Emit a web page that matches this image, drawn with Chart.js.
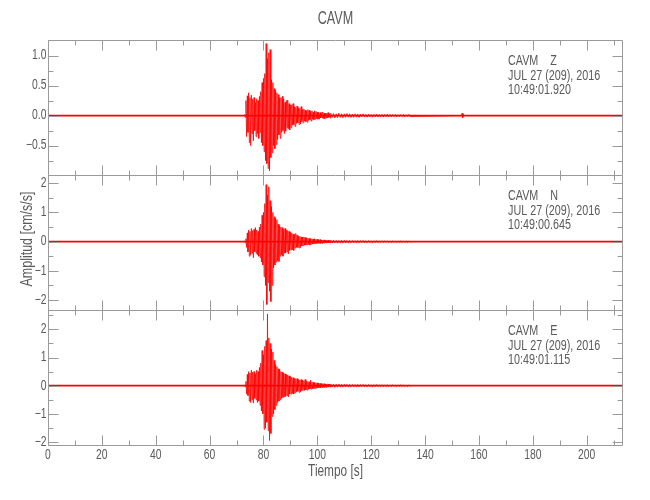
<!DOCTYPE html>
<html>
<head>
<meta charset="utf-8">
<script src="https://cdn.jsdelivr.net/npm/chart.js@4.4.1/dist/chart.umd.min.js"></script>
<style>
  body { margin: 0; background: #fff; }
  #wrap { position: relative; width: 650px; height: 500px; }
  #wrap canvas { position: absolute; left: 0; top: 0; }
</style>
</head>
<body>
<div id="wrap">
  <canvas id="panelZ" width="650" height="500"></canvas>
  <canvas id="panelN" width="650" height="500"></canvas>
  <canvas id="panelE" width="650" height="500"></canvas>
</div>
<script>
// header text
const stationName = "CAVM";
const components = ["Z", "N", "E"];
const recordDate = "JUL 27 (209), 2016";
const startTimes = ["10:49:01.920", "10:49:00.645", "10:49:01.115"];
const xTitle = "Tiempo [s]";
const yTitle = "Amplitud [cm/s/s]";

// time axis (s)
const xTicks = [0, 20, 40, 60, 80, 100, 120, 140, 160, 180, 200];
const xMinorTicks = [10, 30, 50, 70, 90, 110, 130, 150, 170, 190, 210];
const tEnd = 213.5;

// samples: burst every 0.25 s from 73 s, coda every 0.5 s from 105 s
const burstStart = 73, burstStep = 0.25;
const codaStart = 105, codaStep = 0.5;

const zBurst = [
  0.02, -0.03,
  0.25, -0.35, 0.33, -0.28,
  0.38, -0.45, 0.30, -0.50,
  0.34, -0.30, 0.28, -0.42,
  0.30, -0.25, 0.22, -0.35,
  0.28, -0.30, 0.25, -0.38,
  0.32, -0.28, 0.40, -0.45,
  0.55, -0.50, 0.62, -0.60,
  0.70, -0.75, 1.20, -0.80,
  0.95, -0.88, 1.05, -0.92,
  1.10, -0.70, 0.60, -0.62,
  0.55, -0.50, 0.45, -0.55,
  0.42, -0.48, 0.38, -0.40,
  0.35, -0.32, 0.30, -0.38,
  0.30, -0.28, 0.32, -0.25,
  0.28, -0.30, 0.22, -0.26,
  0.25, -0.20, 0.26, -0.22,
  0.20, -0.24, 0.18, -0.20,
  0.18, -0.16, 0.20, -0.15,
  0.15, -0.18, 0.14, -0.13,
  0.16, -0.12, 0.13, -0.15,
  0.12, -0.14, 0.15, -0.10,
  0.10, -0.12, 0.11, -0.09,
  0.09, -0.10, 0.08, -0.11,
  0.10, -0.08, 0.09, -0.07,
  0.07, -0.09, 0.08, -0.06,
  0.06, -0.07, 0.08, -0.06,
  0.07, -0.05, 0.06, -0.06,
  0.05, -0.06, 0.05, -0.04,
  0.05, -0.04, 0.06, -0.05,
  0.04, -0.05, 0.04, -0.04,
  0.04, -0.04, 0.05, -0.03,
  0.03, -0.04
];
const nBurst = [
  0.03, -0.04,
  0.10, -0.20, 0.30, -0.35,
  0.40, -0.50, 0.35, -0.45,
  0.45, -0.40, 0.38, -0.55,
  0.42, -0.35, 0.48, -0.40,
  0.40, -0.45, 0.35, -0.50,
  0.50, -0.55, 0.60, -0.70,
  0.90, -0.80, 1.00, -1.20,
  1.30, -1.50, 1.95, -2.15,
  1.60, -1.40, 1.88, -1.70,
  1.40, -2.05, 1.20, -1.50,
  1.00, -0.90, 0.85, -0.80,
  0.80, -0.70, 0.75, -0.65,
  0.60, -0.68, 0.55, -0.50,
  0.50, -0.45, 0.48, -0.50,
  0.42, -0.40, 0.45, -0.38,
  0.40, -0.35, 0.38, -0.42,
  0.35, -0.30, 0.32, -0.28,
  0.30, -0.28, 0.25, -0.30,
  0.25, -0.22, 0.28, -0.20,
  0.22, -0.20, 0.18, -0.22,
  0.18, -0.20, 0.16, -0.15,
  0.15, -0.14, 0.16, -0.12,
  0.14, -0.12, 0.13, -0.11,
  0.12, -0.10, 0.11, -0.12,
  0.10, -0.09, 0.10, -0.08,
  0.09, -0.08, 0.10, -0.07,
  0.08, -0.07, 0.08, -0.06,
  0.07, -0.06, 0.07, -0.06,
  0.06, -0.06, 0.05, -0.05,
  0.06, -0.05, 0.05, -0.04,
  0.05, -0.04, 0.05, -0.04,
  0.04, -0.04
];
const eBurst = [
  0.03, -0.04,
  0.15, -0.30, 0.40, -0.35,
  0.50, -0.55, 0.45, -0.60,
  0.55, -0.50, 0.48, -0.62,
  0.50, -0.45, 0.42, -0.50,
  0.55, -0.60, 0.50, -0.55,
  0.65, -0.70, 0.80, -0.90,
  1.25, -1.00, 1.10, -1.55,
  1.40, -1.50, 1.60, -1.30,
  2.55, -1.60, 1.70, -1.95,
  1.50, -1.70, 1.30, -1.10,
  1.20, -1.00, 0.90, -0.85,
  0.75, -0.70, 0.68, -0.60,
  0.60, -0.55, 0.58, -0.50,
  0.50, -0.45, 0.48, -0.42,
  0.45, -0.40, 0.42, -0.38,
  0.40, -0.35, 0.38, -0.40,
  0.35, -0.30, 0.33, -0.30,
  0.30, -0.28, 0.28, -0.30,
  0.26, -0.25, 0.25, -0.22,
  0.25, -0.20, 0.22, -0.24,
  0.20, -0.22, 0.22, -0.18,
  0.20, -0.16, 0.18, -0.17,
  0.22, -0.15, 0.15, -0.16,
  0.15, -0.13, 0.14, -0.12,
  0.20, -0.12, 0.13, -0.11,
  0.12, -0.10, 0.11, -0.10,
  0.10, -0.09, 0.10, -0.08,
  0.09, -0.08, 0.08, -0.07,
  0.08, -0.07, 0.07, -0.06,
  0.07, -0.06, 0.06, -0.06,
  0.06, -0.05, 0.06, -0.05,
  0.05, -0.05
];

const zCoda = [
  0.04, -0.03, 0.035, -0.04, 0.03, -0.035, 0.04, -0.03, 0.03, -0.035,
  0.03, -0.03, 0.035, -0.025, 0.03, -0.03, 0.025, -0.03, 0.03, -0.025,
  0.025, -0.03, 0.025, -0.02, 0.03, -0.025, 0.02, -0.025, 0.025, -0.02,
  0.02, -0.025, 0.02, -0.02, 0.025, -0.02, 0.02, -0.02, 0.02, -0.025,
  0.02, -0.02, 0.025, -0.02, 0.02, -0.02, 0.02, -0.015, 0.02, -0.02,
  0.015, -0.02, 0.02, -0.015, 0.02, -0.02, 0.015, -0.015, 0.02, -0.015
];
const nCoda = [
  0.05, -0.045, 0.05, -0.04, 0.045, -0.05, 0.04, -0.045, 0.05, -0.04,
  0.045, -0.04, 0.04, -0.045, 0.04, -0.035, 0.04, -0.04, 0.035, -0.04,
  0.04, -0.035, 0.035, -0.03, 0.04, -0.035, 0.03, -0.035, 0.035, -0.03,
  0.03, -0.035, 0.03, -0.03, 0.035, -0.03, 0.03, -0.025, 0.03, -0.03,
  0.03, -0.025, 0.03, -0.03, 0.025, -0.03, 0.03, -0.025, 0.025, -0.03,
  0.025, -0.025, 0.03, -0.025, 0.025, -0.025, 0.02, -0.025, 0.025, -0.02
];
const eCoda = [
  0.06, -0.05, 0.055, -0.06, 0.05, -0.055, 0.06, -0.05, 0.05, -0.045,
  0.05, -0.045, 0.045, -0.05, 0.045, -0.04, 0.045, -0.045, 0.04, -0.045,
  0.045, -0.04, 0.04, -0.035, 0.045, -0.04, 0.035, -0.04, 0.04, -0.035,
  0.035, -0.04, 0.035, -0.035, 0.04, -0.035, 0.035, -0.03, 0.035, -0.035,
  0.03, -0.035, 0.035, -0.03, 0.03, -0.035, 0.035, -0.03, 0.03, -0.035,
  0.03, -0.03, 0.035, -0.03, 0.03, -0.03, 0.025, -0.03, 0.03, -0.025
];

// small glitch on Z near 154 s
const zBlipStart = 153.5, zBlipStep = 0.25;
const zBlip = [0.0, 0.04, -0.035, 0.02, 0.0];

// y ranges and ticks per panel
const yMins = [-0.99, -2.34, -2.11];
const yMaxs = [1.26, 2.28, 2.69];
const yMajor = [[1.0, 0.5, 0.0, -0.5], [2, 1, 0, -1, -2], [2, 1, 0, -1, -2]];
const yMinor = [[0.75, 0.25, -0.25, -0.75], [1.5, 0.5, -0.5, -1.5], [2.5, 1.5, 0.5, -0.5, -1.5]];

const fontFamily = "'Liberation Sans', Arial, sans-serif";
const frameColor = "#9a9a9a";
const textColor = "#5a5a5a";

// narrow text: the plot uses a tall condensed font
function narrowText(ctx, s, x, y, size, sx, align, rot) {
  ctx.save();
  ctx.translate(x, y);
  if (rot) ctx.rotate(rot);
  ctx.scale(sx, 1);
  ctx.font = size + "px " + fontFamily;
  ctx.textAlign = align;
  ctx.textBaseline = "middle";
  ctx.fillText(s, 0, 0);
  ctx.restore();
}

function minusFmt(s) { return s.replace("-", "\u2212"); }

const framePlugin = {
  id: "seisFrame",
  afterDraw(chart, args, opts) {
    const ctx = chart.ctx;
    const a = chart.chartArea;
    const xs = chart.scales.x, ys = chart.scales.y;
    ctx.save();
    ctx.strokeStyle = frameColor;
    ctx.lineWidth = 1;
    const L = Math.round(a.left) + 0.5, R = Math.round(a.right) - 0.5;
    const T = Math.round(a.top) + 0.5, B = Math.round(a.bottom) + 0.5;
    ctx.beginPath();
    // frame; the bottom edge of upper panels is the top edge of the next one
    ctx.moveTo(L, B); ctx.lineTo(L, T); ctx.lineTo(R, T); ctx.lineTo(R, B);
    if (opts.xLabels) { ctx.moveTo(L, B); ctx.lineTo(R, B); }
    function xt(v, len) {
      const p = Math.round(xs.getPixelForValue(v)) + 0.5;
      ctx.moveTo(p, T); ctx.lineTo(p, T + len);
      ctx.moveTo(p, B); ctx.lineTo(p, B - len);
    }
    function yt(v, len) {
      const p = Math.round(ys.getPixelForValue(v)) + 0.5;
      ctx.moveTo(L, p); ctx.lineTo(L + len, p);
      ctx.moveTo(R, p); ctx.lineTo(R - len, p);
    }
    xTicks.forEach(v => xt(v, 10));
    xMinorTicks.forEach(v => xt(v, 5));
    opts.major.forEach(v => yt(v, 10));
    opts.minor.forEach(v => yt(v, 5));
    ctx.stroke();

    ctx.fillStyle = textColor;
    // y tick labels
    opts.major.forEach(v => {
      const s = minusFmt(opts.decimals ? v.toFixed(1) : String(v));
      narrowText(ctx, s, L - 2, ys.getPixelForValue(v), 14, 0.74, "right");
    });
    // station / date / time block
    const lines = [stationName + "    " + opts.comp, recordDate, opts.time];
    const offs = [21.5, 36, 50];
    lines.forEach((s, i) => narrowText(ctx, s, 508, a.top + offs[i], 14, 0.77, "left"));

    if (opts.title) narrowText(ctx, stationName, (a.left + a.right) / 2, 19, 18, 0.7, "center");
    if (opts.yLabel) narrowText(ctx, yTitle, 28, 239, 16, 0.78, "center", -Math.PI / 2);
    if (opts.xLabels) {
      xTicks.forEach(v => narrowText(ctx, String(v), xs.getPixelForValue(v), B + 9.5, 14, 0.74, "center"));
      narrowText(ctx, xTitle, (a.left + a.right) / 2, 472, 16, 0.74, "center");
    }
    ctx.restore();
  }
};

function buildTrace(burst, coda, blip) {
  const pts = [];
  burst.forEach((v, i) => pts.push({ x: burstStart + i * burstStep, y: v }));
  coda.forEach((v, i) => pts.push({ x: codaStart + i * codaStep, y: v }));
  if (blip) blip.forEach((v, i) => pts.push({ x: zBlipStart + i * zBlipStep, y: v }));
  return pts;
}

const traces = [buildTrace(zBurst, zCoda, zBlip), buildTrace(nBurst, nCoda), buildTrace(eBurst, eCoda)];
const canvasIds = ["panelZ", "panelN", "panelE"];
const pads = [
  { top: 40, bottom: 325 },
  { top: 175, bottom: 190 },
  { top: 310, bottom: 55 }
];

for (let k = 0; k < 3; k++) {
  new Chart(document.getElementById(canvasIds[k]), {
    type: "line",
    data: {
      datasets: [
        {
          data: [{ x: 0, y: 0 }, { x: tEnd, y: 0 }],
          borderColor: "#ff0000",
          borderWidth: 1.6,
          pointRadius: 0
        },
        {
          data: traces[k],
          borderColor: "rgba(255, 0, 0, 0.8)",
          borderWidth: 1,
          pointRadius: 0,
          tension: 0
        }
      ]
    },
    options: {
      responsive: false,
      animation: false,
      events: [],
      layout: { padding: { left: 48, right: 27, top: pads[k].top, bottom: pads[k].bottom } },
      plugins: {
        legend: { display: false },
        tooltip: { enabled: false },
        seisFrame: {
          comp: components[k],
          time: startTimes[k],
          major: yMajor[k],
          minor: yMinor[k],
          decimals: k === 0,
          title: k === 0,
          yLabel: k === 1,
          xLabels: k === 2
        }
      },
      scales: {
        x: { type: "linear", min: 0, max: tEnd, display: false },
        y: { type: "linear", min: yMins[k], max: yMaxs[k], display: false }
      }
    },
    plugins: [framePlugin]
  });
}
</script>
</body>
</html>
